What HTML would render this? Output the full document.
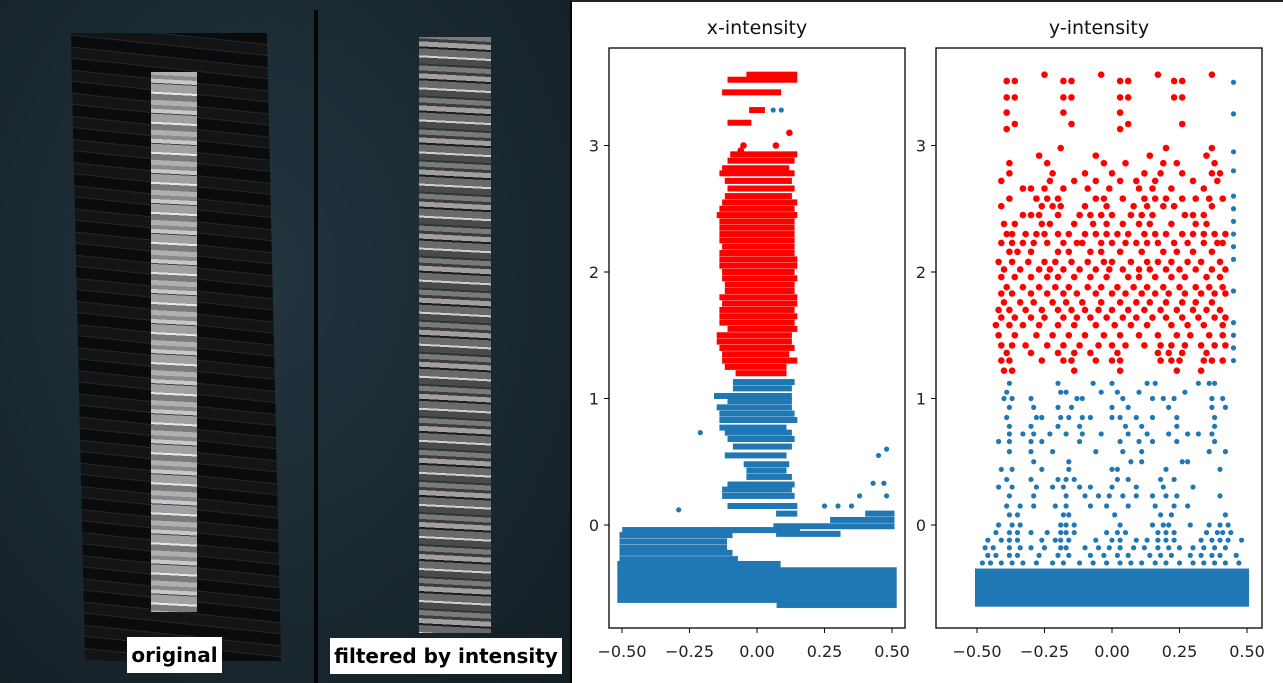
<!DOCTYPE html>
<html><head><meta charset="utf-8">
<style>
html,body{margin:0;padding:0;}
body{width:1283px;height:683px;position:relative;overflow:hidden;background:#fff;font-family:"DejaVu Sans","Liberation Sans",sans-serif;}
#left{position:absolute;left:0;top:0;width:570px;height:683px;background:radial-gradient(ellipse at 45% 40%,#233540 0%,#1a2830 55%,#141f26 100%);}
#divider{position:absolute;left:314px;top:10px;width:4px;height:673px;background:#050505;}
.cloud{position:absolute;}
#orig{left:78px;top:33px;width:196px;height:628px;transform:skewX(1.3deg);
background:repeating-linear-gradient(186deg,#0b0b0b 0 11px,#1c2a31 11px 12px,#141414 12px 22px,#1c2a31 22px 23px);}
#origBright{left:151px;top:72px;width:46px;height:540px;
background:repeating-linear-gradient(183deg,#b0b0b0 0 5px,#8a8a8a 5px 9px,#c8c8c8 9px 13px,#3a4a50 13px 14px,#a0a0a0 14px 22px,#e8e8e8 22px 24px,#7a7a7a 24px 30px);}
#filt{left:419px;top:37px;width:72px;height:596px;
background:repeating-linear-gradient(183deg,#7a7a7a 0 5px,#3c3c3c 5px 8px,#a0a0a0 8px 13px,#1c1c1c 13px 15px,#6a6a6a 15px 22px,#d0d0d0 22px 24px,#4a4a4a 24px 30px,#263840 30px 32px);}
.lbl{position:absolute;background:#fff;color:#000;font-weight:bold;font-family:"DejaVu Sans","Liberation Sans",sans-serif;font-size:20px;line-height:36px;text-align:center;}
#right{position:absolute;left:570px;top:0;width:713px;height:683px;border-left:2px solid #000;border-top:2px solid #222;box-sizing:border-box;}
svg text{font-family:"DejaVu Sans","Liberation Sans",sans-serif;}
</style></head><body>
<div id="left">
  <div class="cloud" id="orig"></div>
  <div class="cloud" id="origBright"></div>
  <div id="divider"></div>
  <div class="cloud" id="filt"></div>
  <div class="lbl" style="left:127px;top:637px;width:95px;">original</div>
  <div class="lbl" style="left:330px;top:638px;width:232px;">filtered by intensity</div>
</div>
<div id="right"></div>
<svg id="chart" width="1283" height="683" style="position:absolute;left:0;top:0"></svg>
<script>
// ---- shared ticks ----
const xTicks=[-0.5,-0.25,0,0.25,0.5];
const xTickLabels=["\u22120.50","\u22120.25","0.00","0.25","0.50"];
const yTicks=[0,1,2,3];
const yTickLabels=["0","1","2","3"];
// ---- x-intensity (streak rows: y, x0, x1) ----
const xRedRowY=[2.93,2.88,2.82,2.78,2.72,2.66,2.6,2.55,2.5,2.45,2.4,2.35,2.3,2.25,2.2,2.15,2.1,2.05,2.0,1.95,1.9,1.85,1.8,1.75,1.7,1.65,1.6,1.55,1.5,1.45,1.4,1.35,1.3,1.25,1.2,3.18,3.28,3.42,3.52,3.56];
const xRedRowX0=[-0.09,-0.1,-0.12,-0.13,-0.11,-0.1,-0.11,-0.12,-0.13,-0.14,-0.13,-0.13,-0.13,-0.13,-0.12,-0.13,-0.13,-0.13,-0.12,-0.12,-0.11,-0.11,-0.13,-0.12,-0.13,-0.13,-0.13,-0.1,-0.14,-0.14,-0.13,-0.12,-0.12,-0.11,-0.07,-0.1,-0.02,-0.12,-0.1,-0.03];
const xRedRowX1=[0.14,0.13,0.11,0.13,0.12,0.13,0.12,0.14,0.13,0.14,0.13,0.13,0.13,0.13,0.13,0.13,0.14,0.14,0.13,0.14,0.13,0.13,0.14,0.14,0.13,0.14,0.13,0.14,0.12,0.12,0.13,0.11,0.14,0.1,0.1,-0.03,0.02,0.08,0.14,0.14];
const xRedDotX=[-0.05,0.07,0.12,-0.06];
const xRedDotY=[3.0,3.0,3.1,2.96];
const xBlueRowY=[1.13,1.08,1.02,0.98,0.93,0.88,0.83,0.77,0.73,0.68,0.62,0.55,0.48,0.43,0.38,0.32,0.28,0.23,0.15,0.09,-0.04,-0.08,-0.13,-0.18,-0.22,-0.27,-0.04,0.04,-0.01,0.09,-0.07];
const xBlueRowX0=[-0.08,-0.08,-0.15,-0.1,-0.14,-0.13,-0.13,-0.13,-0.11,-0.1,-0.08,-0.11,-0.04,-0.03,-0.03,-0.1,-0.12,-0.12,-0.1,0.08,-0.49,-0.5,-0.5,-0.5,-0.5,-0.5,-0.15,0.28,0.07,0.41,0.08];
const xBlueRowX1=[0.13,0.12,0.12,0.12,0.12,0.13,0.14,0.1,0.12,0.13,0.12,0.1,0.11,0.1,0.12,0.13,0.12,0.13,0.14,0.14,-0.15,-0.1,-0.12,-0.12,-0.1,-0.08,0.15,0.5,0.5,0.5,0.3];
const xBlueBlockTop=[-0.30,-0.35];
const xBlueBlockBot=[-0.60,-0.64];
const xBlueBlockX0=[-0.51,0.08];
const xBlueBlockX1=[0.08,0.51];
const xBlueDotX=[-0.21,-0.29,0.48,0.45,0.43,0.47,0.38,0.48,0.25,0.3,0.35,0.06,0.09];
const xBlueDotY=[0.73,0.12,0.6,0.55,0.33,0.33,0.23,0.23,0.15,0.15,0.15,3.28,3.28];
// ---- y-intensity (rows of points) ----
const yRedRowY=[3.56,3.51,3.38,3.26,3.17,3.13,2.98,2.92,2.86,2.78,2.72,2.66,2.58,2.52,2.45,2.38,2.3,2.23,2.16,2.08,2.02,1.96,1.88,1.83,1.76,1.7,1.64,1.58,1.5,1.42,1.36,1.3,1.22];
const yRedRowXs=[
[-0.25,-0.04,0.17,0.37],
[-0.39,-0.36,-0.18,-0.15,0.03,0.06,0.23,0.26],
[-0.39,-0.36,-0.18,-0.15,0.03,0.06,0.23,0.26],
[-0.39,-0.18,0.03],
[-0.36,-0.15,0.06,0.26],
[-0.39,0.03],
[-0.19,0.2,0.37],
[-0.27,-0.06,0.14,0.35],
[-0.38,-0.24,-0.03,0.05,0.19,0.24,0.38],
[-0.38,-0.22,-0.1,0.0,0.12,0.18,0.26,0.37,0.4],
[-0.41,-0.23,-0.14,-0.06,0.03,0.09,0.16,0.3,0.39],
[-0.33,-0.3,-0.25,-0.18,-0.09,-0.01,0.1,0.15,0.22,0.34],
[-0.38,-0.28,-0.24,-0.2,-0.06,-0.03,0.04,0.12,0.16,0.2,0.26,0.31,0.36,0.41],
[-0.41,-0.26,-0.22,-0.19,-0.1,-0.02,0.08,0.13,0.19,0.23,0.37],
[-0.33,-0.3,-0.27,-0.2,-0.12,-0.08,-0.04,0.0,0.07,0.11,0.15,0.27,0.3,0.34],
[-0.4,-0.36,-0.26,-0.23,-0.14,-0.07,-0.02,0.04,0.1,0.14,0.22,0.31,0.35],
[-0.39,-0.37,-0.32,-0.28,-0.25,-0.2,-0.16,-0.1,-0.06,-0.02,0.02,0.06,0.12,0.16,0.2,0.26,0.3,0.34,0.38,0.42],
[-0.41,-0.37,-0.33,-0.29,-0.24,-0.18,-0.13,-0.11,-0.04,0.0,0.05,0.09,0.13,0.17,0.23,0.28,0.34,0.39,0.41],
[-0.38,-0.35,-0.3,-0.2,-0.16,-0.08,-0.04,0.03,0.11,0.19,0.24,0.3,0.37],
[-0.42,-0.37,-0.31,-0.25,-0.21,-0.15,-0.09,-0.03,0.0,0.07,0.13,0.17,0.22,0.28,0.33,0.4],
[-0.4,-0.34,-0.27,-0.23,-0.18,-0.12,-0.06,-0.01,0.04,0.1,0.14,0.2,0.25,0.31,0.37,0.42],
[-0.41,-0.36,-0.3,-0.24,-0.2,-0.14,-0.08,-0.02,0.06,0.1,0.16,0.22,0.27,0.35,0.4],
[-0.39,-0.33,-0.27,-0.21,-0.16,-0.09,-0.04,0.02,0.08,0.13,0.19,0.25,0.31,0.36,0.41],
[-0.41,-0.37,-0.3,-0.24,-0.18,-0.13,-0.06,0.0,0.05,0.11,0.16,0.21,0.27,0.33,0.38,0.42],
[-0.4,-0.34,-0.29,-0.22,-0.17,-0.11,-0.04,0.03,0.09,0.14,0.2,0.26,0.31,0.37],
[-0.42,-0.38,-0.32,-0.26,-0.2,-0.15,-0.1,-0.05,0.0,0.06,0.12,0.18,0.24,0.3,0.35,0.4],
[-0.41,-0.36,-0.3,-0.25,-0.18,-0.13,-0.08,-0.02,0.04,0.09,0.15,0.2,0.26,0.32,0.38,0.42],
[-0.43,-0.38,-0.33,-0.27,-0.2,-0.14,-0.06,0.01,0.07,0.13,0.22,0.28,0.34,0.41],
[-0.42,-0.36,-0.28,-0.22,-0.16,-0.1,-0.03,0.03,0.1,0.17,0.24,0.29,0.36,0.41],
[-0.41,-0.37,-0.32,-0.24,-0.18,-0.12,-0.05,0.0,0.05,0.12,0.18,0.22,0.27,0.33,0.38,0.42],
[-0.39,-0.3,-0.2,-0.14,-0.08,0.02,0.17,0.21,0.26,0.35],
[-0.41,-0.38,-0.26,-0.18,-0.15,-0.06,0.0,0.03,0.18,0.22,0.25,0.34,0.37,0.41],
[-0.4,-0.37,-0.14,0.03,0.24,0.33]];
const yBlueRowY=[1.12,1.05,1.0,0.93,0.85,0.78,0.72,0.66,0.58,0.5,0.44,0.36,0.3,0.23,0.15,0.08,0.0,-0.06,-0.12,-0.18,-0.24,-0.3];
const yBlueRowXs=[
[-0.38,-0.2,-0.07,0.0,0.13,0.16,0.32,0.36,0.38],
[-0.39,-0.19,-0.17,-0.04,0.02,0.1,0.27],
[-0.4,-0.37,-0.3,-0.13,-0.11,0.04,0.15,0.19,0.23,0.37,0.41],
[-0.38,-0.29,-0.2,-0.15,0.0,0.06,0.21,0.37,0.42],
[-0.39,-0.28,-0.26,-0.19,-0.16,-0.11,-0.08,0.0,0.03,0.09,0.15,0.24,0.38],
[-0.38,-0.3,-0.2,-0.12,0.05,0.11,0.24,0.38],
[-0.38,-0.33,-0.29,-0.23,-0.17,-0.11,-0.04,0.06,0.13,0.21,0.28,0.32,0.37],
[-0.42,-0.38,-0.3,-0.26,-0.12,0.03,0.1,0.15,0.24,0.38],
[-0.38,-0.3,-0.22,-0.06,0.04,0.11,0.36,0.42],
[-0.29,-0.16,0.07,0.11,0.26,0.28],
[-0.41,-0.37,-0.26,-0.16,0.0,0.02,0.2,0.4],
[-0.39,-0.3,-0.2,-0.17,-0.14,0.02,0.06,0.18,0.23],
[-0.42,-0.37,-0.28,-0.22,-0.18,-0.12,-0.08,0.0,0.09,0.19,0.3],
[-0.38,-0.29,-0.17,-0.1,-0.05,-0.01,0.04,0.09,0.15,0.2,0.24,0.4],
[-0.39,-0.34,-0.29,-0.21,-0.17,-0.08,-0.02,0.06,0.16,0.23,0.28],
[-0.38,-0.35,-0.18,-0.16,0.01,0.18,0.22,0.42],
[-0.42,-0.37,-0.34,-0.19,-0.17,-0.14,0.03,0.15,0.19,0.21,0.29,0.36,0.4,0.43],
[-0.43,-0.38,-0.35,-0.3,-0.24,-0.19,-0.17,-0.14,-0.02,0.02,0.05,0.17,0.2,0.23,0.35,0.39,0.41,0.44],
[-0.46,-0.41,-0.38,-0.35,-0.26,-0.21,-0.19,-0.16,-0.06,0.0,0.03,0.09,0.13,0.17,0.2,0.23,0.33,0.37,0.4,0.43,0.48],
[-0.47,-0.44,-0.38,-0.34,-0.3,-0.25,-0.19,-0.17,-0.1,-0.05,-0.01,0.03,0.08,0.12,0.17,0.21,0.25,0.3,0.34,0.38,0.42],
[-0.46,-0.43,-0.38,-0.35,-0.27,-0.2,-0.16,-0.08,-0.03,0.02,0.06,0.14,0.18,0.22,0.29,0.33,0.37,0.4,0.46],
[-0.48,-0.45,-0.41,-0.37,-0.33,-0.28,-0.22,-0.18,-0.12,-0.07,-0.02,0.03,0.07,0.11,0.16,0.2,0.25,0.3,0.34,0.38,0.42,0.47]];
const yBlueColX=0.45;
const yBlueColY=[3.5,3.25,2.95,2.8,2.6,2.5,2.4,2.3,2.2,2.1,1.85,1.6,1.5,1.4,1.3];
const yBlueBlockTop=[-0.36];
const yBlueBlockBot=[-0.63];
const yBlueBlockX0=[-0.5];
const yBlueBlockX1=[0.5];

const NS="http://www.w3.org/2000/svg";
const svg=document.getElementById('chart');
function mk(tag,attrs,parent){const e=document.createElementNS(NS,tag);for(const k in attrs)e.setAttribute(k,attrs[k]);(parent||svg).appendChild(e);return e;}
const BLUE="#1f77b4",RED="#ff0000";

function makeChart(cfg){
  const sx=v=>cfg.xm+(v-(-0.5))*270;
  const sy=v=>525-v*126.5;
  const g=mk('g',{});
  
  
  const plot=mk('g',{},g);
  
  
  cfg.blocks.forEach(b=>{
    const r=mk('rect',{x:sx(b[2])-2,y:sy(b[0])-2,width:sx(b[3])-sx(b[2])+4,height:sy(b[1])-sy(b[0])+4,fill:BLUE},plot);
    
    
  });
  cfg.rows.forEach(rw=>{
    const r=mk('rect',{x:sx(rw[1])-2.5,y:sy(rw[0])-3,width:sx(rw[2])-sx(rw[1])+5,height:6,fill:rw[3]},plot);
    
    
  });
  cfg.dots.forEach(d=>{
    const c=mk('circle',{cx:sx(d[0]),cy:sy(d[1]),r:d[2]===RED?3.3:2.6,fill:d[2]},plot);
    
    
  });
  const fr=mk('rect',{x:cfg.left,y:48,width:cfg.right-cfg.left,height:580,fill:'none',stroke:'#000','stroke-width':1.3},g);
  
  
  xTicks.forEach((t,i)=>{
    mk('line',{x1:sx(t),x2:sx(t),y1:628,y2:633,stroke:'#000'},g);
    const tx=mk('text',{x:sx(t),y:657,'text-anchor':'middle','font-size':16,fill:'#222'},g);
    tx.textContent=xTickLabels[i];
    
    
  });
  yTicks.forEach((t,i)=>{
    mk('line',{x1:cfg.left-5,x2:cfg.left,y1:sy(t),y2:sy(t),stroke:'#000'},g);
    const tx=mk('text',{x:cfg.left-10,y:sy(t)+6,'text-anchor':'end','font-size':16,fill:'#222'},g);
    tx.textContent=yTickLabels[i];
    
    
  });
  const ti=mk('text',{x:(cfg.left+cfg.right)/2,y:34,'text-anchor':'middle','font-size':19,fill:'#111'},g);
  ti.textContent=cfg.title;
  
  
}

const xBlocks=xBlueBlockTop.map((t,i)=>[t,xBlueBlockBot[i],xBlueBlockX0[i],xBlueBlockX1[i]]);
const xRows=[];
xBlueRowY.forEach((y,i)=>xRows.push([y,xBlueRowX0[i],xBlueRowX1[i],BLUE]));
xRedRowY.forEach((y,i)=>xRows.push([y,xRedRowX0[i],xRedRowX1[i],RED]));
const xDots=[];
xBlueDotX.forEach((x,i)=>xDots.push([x,xBlueDotY[i],BLUE]));
xRedDotX.forEach((x,i)=>xDots.push([x,xRedDotY[i],RED]));
makeChart({name:'x-intensity-chart',title:'x-intensity',left:609,right:905,xm:622,blocks:xBlocks,rows:xRows,dots:xDots});

const yBlocks=yBlueBlockTop.map((t,i)=>[t,yBlueBlockBot[i],yBlueBlockX0[i],yBlueBlockX1[i]]);
const yDots=[];
yBlueRowY.forEach((y,i)=>yBlueRowXs[i].forEach(x=>yDots.push([x,y,BLUE])));
yBlueColY.forEach(y=>yDots.push([yBlueColX,y,BLUE]));
yRedRowY.forEach((y,i)=>yRedRowXs[i].forEach(x=>yDots.push([x,y,RED])));
makeChart({name:'y-intensity-chart',title:'y-intensity',left:936,right:1262,xm:977,blocks:yBlocks,rows:[],dots:yDots});
</script>
</body></html>
